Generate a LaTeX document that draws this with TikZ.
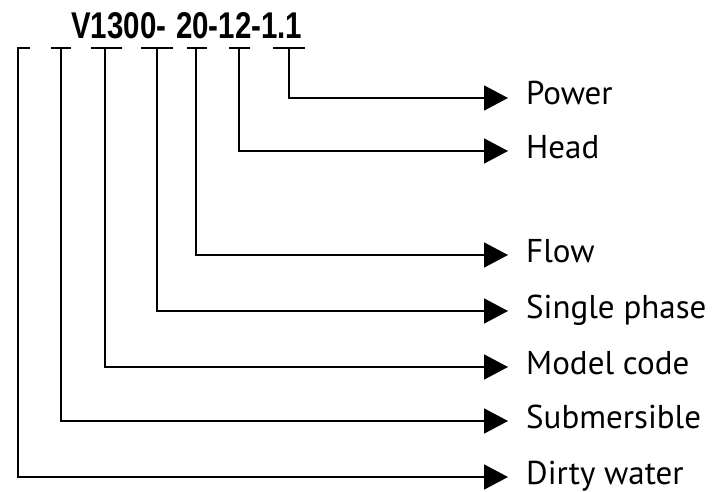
\documentclass[tikz,border=0pt]{standalone}
\usepackage{fontspec}
\setmainfont{PT Sans}
\newfontfamily\codefont{Liberation Sans}
\usetikzlibrary{arrows.meta}
\tikzset{
  conn/.style={line width=1.8pt, -{Triangle[length=24pt,width=25pt]}},
  barline/.style={line width=1.8pt},
  lbl/.style={anchor=west, inner xsep=18pt, inner ysep=0pt, text height=23pt, text depth=9pt,
    font=\fontsize{33}{39}\selectfont},
}
\begin{document}
\begin{tikzpicture}[x=1pt,y=-1pt]
\useasboundingbox (0,0) rectangle (712,492);
% model code
\node[anchor=base west, inner sep=0pt] (code) at (71,39)
  {\resizebox{231pt}{26pt}{\codefont\bfseries V1300-\,\,20-12-1.1}};
% bars
\draw[barline] (17,48) -- (30,48);
\draw[barline] (51,48) -- (71,48);
\draw[barline] (91,48) -- (122,48);
\draw[barline] (141,48) -- (173,48);
\draw[barline] (187,48) -- (207,48);
\draw[barline] (229,48) -- (250,48);
\draw[barline] (273,48) -- (305,48);
\coordinate (b1) at (18,48);
\coordinate (b2) at (61,48);
\coordinate (b3) at (105,48);
\coordinate (b4) at (157,48);
\coordinate (b5) at (196,48);
\coordinate (b6) at (239,48);
\coordinate (b7) at (289,48);
% labels
\node[lbl] (power) at (508,98) {Power};
\node[lbl] (head) at (508,151) {Head};
\node[lbl] (flow) at (508,255) {Flow};
\node[lbl] (phase) at (508,311) {Single phase};
\node[lbl] (model) at (508,367) {Model code};
\node[lbl] (sub) at (508,421) {Submersible};
\node[lbl] (dirty) at (508,477) {Dirty water};
% connectors
\draw[conn] (b7) |- (power.west);
\draw[conn] (b6) |- (head.west);
\draw[conn] (b5) |- (flow.west);
\draw[conn] (b4) |- (phase.west);
\draw[conn] (b3) |- (model.west);
\draw[conn] (b2) |- (sub.west);
\draw[conn] (b1) |- (dirty.west);
\end{tikzpicture}
\end{document}
